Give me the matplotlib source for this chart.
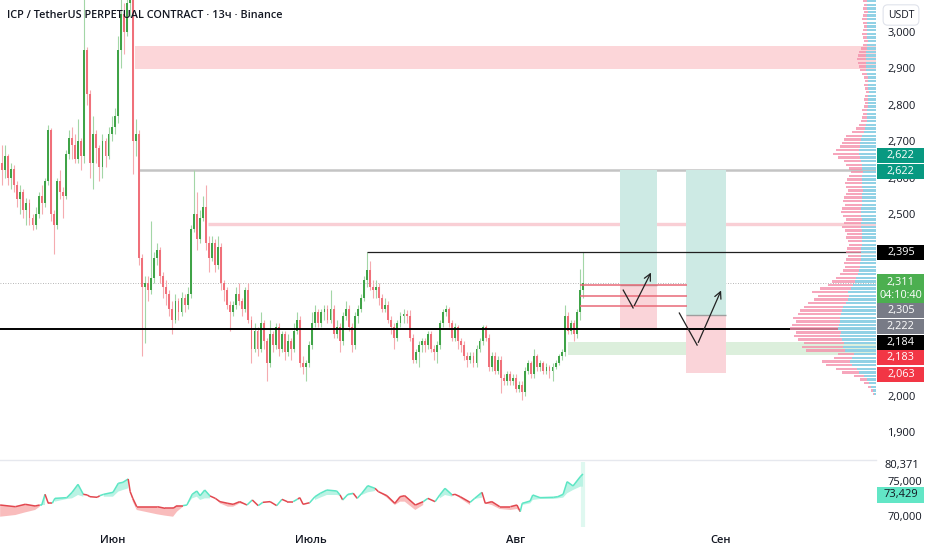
import matplotlib
matplotlib.use("Agg")
import matplotlib.pyplot as plt
from matplotlib.collections import LineCollection
from matplotlib.patches import Rectangle
from matplotlib.lines import Line2D
import numpy as np

plt.rcParams['font.family'] = ['Open Sans', 'DejaVu Sans']

# ---- candles (13h); open = previous close ----
first_open = 2640
closes = [2620, 2660, 2600, 2625, 2580, 2540, 2560, 2510, 2530, 2490,
          2470, 2500, 2550, 2530, 2590, 2730, 2500, 2470, 2590, 2560,
          2550, 2665, 2710, 2690, 2650, 2700, 2660, 2950, 2830, 2640,
          2720, 2680, 2630, 2700, 2660, 2720, 2740, 2770, 2950, 3050,
          3000, 3080, 3120, 2700, 2720, 2380, 2300, 2310, 2290, 2325,
          2380, 2400, 2330, 2300, 2280, 2240, 2210, 2260, 2230, 2270,
          2250, 2280, 2460, 2500, 2430, 2490, 2520, 2420, 2380, 2420,
          2360, 2410, 2310, 2290, 2250, 2230, 2250, 2280, 2260, 2240,
          2290, 2210, 2130, 2180, 2130, 2200, 2150, 2090, 2170, 2140,
          2190, 2130, 2170, 2120, 2150, 2130, 2180, 2210, 2090, 2080,
          2090, 2140, 2200, 2230, 2200, 2230, 2240, 2210, 2240, 2170,
          2190, 2150, 2220, 2240, 2190, 2140, 2220, 2240, 2270, 2320,
          2346, 2300, 2290, 2300, 2270, 2240, 2250, 2210, 2190, 2160,
          2200, 2220, 2225, 2220, 2160, 2100, 2120, 2140, 2150, 2140,
          2170, 2130, 2120, 2140, 2200, 2230, 2240, 2200, 2160, 2190,
          2150, 2140, 2110, 2100, 2110, 2090, 2130, 2150, 2190, 2160,
          2080, 2110, 2070, 2100, 2050, 2040, 2060, 2040, 2050, 2020,
          2030, 2010, 2070, 2090, 2060, 2110, 2080, 2090, 2070, 2080,
          2070, 2080, 2090, 2110, 2120, 2220, 2180, 2200, 2170, 2230,
          2290, 2311]
highs = [2690, 2690, 2665, 2640, 2635, 2590, 2580, 2570, 2545, 2540,
         2500, 2520, 2560, 2580, 2600, 2745, 2735, 2510, 2600, 2620,
         2575, 2675, 2730, 2740, 2720, 2760, 2710, 3100, 2960, 2840,
         2770, 2730, 2690, 2720, 2710, 2740, 2770, 2790, 2990, 3150,
         3080, 3130, 3200, 3150, 2760, 2730, 2390, 2330, 2330, 2480,
         2395, 2420, 2410, 2340, 2320, 2290, 2260, 2280, 2270, 2285,
         2280, 2300, 2470, 2622, 2560, 2510, 2550, 2580, 2440, 2440,
         2430, 2440, 2420, 2320, 2300, 2260, 2260, 2300, 2310, 2270,
         2300, 2310, 2220, 2200, 2190, 2230, 2210, 2160, 2210, 2180,
         2200, 2200, 2180, 2180, 2170, 2160, 2200, 2230, 2220, 2110,
         2100, 2150, 2230, 2250, 2240, 2240, 2250, 2250, 2290, 2250,
         2210, 2200, 2230, 2260, 2250, 2200, 2230, 2250, 2280, 2330,
         2395, 2370, 2320, 2320, 2310, 2280, 2270, 2260, 2220, 2200,
         2210, 2230, 2240, 2235, 2235, 2170, 2130, 2150, 2160, 2160,
         2180, 2180, 2140, 2150, 2210, 2240, 2250, 2245, 2210, 2200,
         2195, 2160, 2150, 2120, 2120, 2120, 2140, 2160, 2195, 2195,
         2170, 2120, 2120, 2110, 2110, 2060, 2070, 2070, 2060, 2060,
         2040, 2040, 2080, 2100, 2095, 2130, 2115, 2100, 2095, 2090,
         2085, 2090, 2100, 2115, 2130, 2250, 2230, 2210, 2210, 2240,
         2350, 2395]
lows = [2580, 2600, 2580, 2570, 2560, 2520, 2500, 2490, 2470, 2470,
        2456, 2460, 2490, 2500, 2520, 2580, 2480, 2390, 2460, 2540,
        2490, 2540, 2650, 2650, 2640, 2640, 2620, 2640, 2800, 2600,
        2570, 2640, 2590, 2600, 2630, 2650, 2700, 2720, 2750, 2900,
        2940, 2990, 3040, 2610, 2660, 2360, 2110, 2146, 2260, 2280,
        2310, 2360, 2310, 2270, 2250, 2220, 2170, 2200, 2210, 2220,
        2230, 2240, 2270, 2450, 2400, 2420, 2480, 2400, 2340, 2370,
        2340, 2350, 2290, 2260, 2240, 2180, 2220, 2240, 2250, 2220,
        2230, 2200, 2090, 2120, 2110, 2120, 2130, 2040, 2080, 2120,
        2130, 2110, 2120, 2100, 2110, 2100, 2120, 2170, 2080, 2060,
        2040, 2080, 2130, 2190, 2190, 2190, 2210, 2200, 2200, 2160,
        2160, 2120, 2140, 2210, 2180, 2120, 2130, 2200, 2230, 2260,
        2300, 2290, 2270, 2270, 2250, 2230, 2230, 2200, 2170, 2130,
        2150, 2190, 2200, 2200, 2150, 2090, 2090, 2080, 2120, 2120,
        2130, 2120, 2100, 2090, 2130, 2190, 2220, 2190, 2150, 2150,
        2130, 2120, 2100, 2080, 2090, 2080, 2080, 2120, 2140, 2150,
        2070, 2070, 2060, 2060, 2008, 2030, 2030, 2030, 2030, 2010,
        2010, 1990, 2000, 2060, 2050, 2050, 2070, 2070, 2060, 2060,
        2050, 2040, 2075, 2085, 2100, 2110, 2170, 2170, 2150, 2160,
        2210, 2270]

# time axis in days from 1 June
first_day, last_day = -16.8, 71.2
month_days = [0, 30, 61, 92]
month_names = ['Июн', 'Июль', 'Авг', 'Сен']

# ---- drawn levels / zones ----
supply_zone = (2898, 2962, 3.3)        # low, high, start day
gray_level = (2622, 3.8)
pink_level = (2473, 14.4)
thin_level = (2395, 38.5)
thick_level = 2184
demand_zone = (2113, 2148, 68.9)
last_price = 2311
red_lines = [2305, 2275, 2247]
red_lines_span = (70.8, 87.0)

# long positions: start, end, entry, stop, target
positions = [(76.8, 82.4, 2305, 2183, 2622),
             (86.8, 92.9, 2222, 2063, 2622)]
arrow1_days = [77.3, 78.8, 81.7]
arrow1_prices = [2291, 2242, 2346]
arrow2_days = [85.8, 88.5, 92.3]
arrow2_prices = [2228, 2140, 2297]

# price scale: visible round ticks and the coloured value labels
price_ticks = [1900, 2000, 2500, 2600, 2700, 2800, 2900, 3000]
label_texts = ['2,622', '2,622', '2,395', '2,311\n04:10:40', '2,305',
               '2,222', '2,184', '2,183', '2,063']
label_prices = [2662, 2618, 2393, 2294, 2234, 2190, 2148, 2107, 2058]
label_colors = ['#089981', '#089981', '#000000', '#4caf50', '#787b86',
                '#787b86', '#000000', '#f23645', '#f23645']

# ---- volume profile (10-point rows, 2005 .. 3085) ----
vp_prices = list(range(2005, 3090, 10))
vp_total = [3, 5, 8, 12, 16, 22, 34, 40, 50, 54,
            42, 38, 70, 74, 72, 78, 82, 80, 86, 84,
            80, 83, 78, 76, 72, 68, 62, 58, 64, 56,
            48, 44, 40, 36, 33, 31, 32, 30, 28, 30,
            29, 27, 28, 30, 29, 31, 34, 32, 30, 33,
            35, 34, 31, 33, 32, 30, 28, 30, 31, 29,
            27, 25, 27, 30, 32, 38, 43, 40, 36, 34,
            32, 30, 24, 20, 17, 15, 14, 13, 14, 12,
            11, 12, 11, 10, 11, 12, 11, 12, 14, 16,
            17, 18, 19, 18, 17, 15, 13, 12, 13, 14,
            13, 12, 13, 14, 13, 12, 13, 12, 13]
vp_buy = [2, 3, 5, 7, 9, 12, 17, 19, 24, 26,
          24, 22, 31, 33, 32, 34, 36, 35, 38, 37,
          36, 36, 35, 34, 33, 30, 28, 27, 28, 25,
          23, 21, 20, 18, 17, 16, 16, 15, 15, 15,
          15, 14, 14, 14, 14, 14, 15, 15, 14, 15,
          15, 15, 14, 14, 14, 14, 13, 14, 14, 14,
          14, 13, 14, 14, 15, 16, 17, 17, 16, 16,
          15, 14, 12, 11, 10, 9, 9, 9, 9, 8,
          8, 8, 8, 7, 8, 8, 8, 8, 9, 10,
          10, 10, 10, 10, 10, 9, 9, 8, 9, 9,
          9, 9, 9, 9, 9, 8, 9, 9, 9]

# ---- lower indicator ----
ind_days = [-17.1, -14.8, -13.3, -11.8, -11.1, -10.8, -10.3, -9.8, -9.2, -8.8,
            -7.0, -6.2, -5.3, -4.5, -3.9, -3.5, -2.4, -2.0, -1.4, 0.0,
            0.8, 1.5, 2.3, 2.6, 3.0, 3.6, 4.8, 6.7, 7.9, 9.1,
            9.7, 10.6, 11.2, 12.0, 12.7, 13.2, 13.9, 14.7, 15.5, 16.2,
            17.4, 18.2, 19.2, 20.3, 21.1, 22.0, 22.7, 23.8, 24.8, 25.6,
            26.4, 27.3, 28.0, 28.3, 28.8, 29.8, 30.6, 31.4, 32.4, 33.9,
            34.4, 34.8, 35.6, 36.4, 37.0, 37.7, 38.6, 39.7, 40.2, 41.5,
            42.7, 43.5, 44.2, 45.8, 47.0, 47.7, 48.8, 49.5, 50.3, 51.4,
            51.8, 52.6, 54.1, 54.8, 55.9, 56.4, 57.4, 58.6, 60.2, 61.2,
            61.7, 62.0, 63.2, 63.6, 64.7, 66.7, 67.4, 68.2, 68.8, 69.7,
            70.8, 71.2]
ind_line = [71570, 71330, 71670, 71430, 71570, 71570, 73100, 71810, 71810, 72520,
            72620, 73380, 74520, 73100, 73000, 72760, 72670, 72900, 73100, 73380,
            74670, 74810, 75290, 73480, 72520, 71330, 71330, 71330, 71100, 71100,
            71480, 71480, 71570, 73100, 73570, 72900, 73710, 72860, 72520, 72050,
            71810, 71670, 72050, 71570, 72290, 71480, 71950, 72050, 71480, 72380,
            72050, 72050, 72430, 72620, 71670, 71900, 72760, 73240, 73710, 73570,
            73000, 72290, 73100, 73240, 72520, 73240, 74330, 73950, 73480, 72900,
            71810, 72760, 72900, 71570, 72050, 72520, 72050, 73000, 73950, 73000,
            73100, 72760, 71950, 72520, 73380, 71810, 72050, 71330, 71330, 71570,
            70620, 71810, 72140, 73000, 72620, 72670, 72760, 73100, 74900, 74290,
            75620, 76000]
ind_band = [69900, 70140, 70520, 70860, 71330, 71570, 71570, 71900, 71810, 72050,
            72430, 72520, 73000, 72760, 73000, 72760, 72670, 72900, 72760, 72760,
            73480, 73710, 73950, 73710, 72050, 70860, 70620, 70240, 70050, 69900,
            70620, 71330, 71570, 72520, 72760, 72290, 72520, 72520, 72520, 71810,
            71330, 71330, 71810, 71570, 72290, 71480, 71950, 72050, 71480, 72380,
            72050, 72050, 72430, 72620, 71670, 71900, 72290, 72620, 73000, 73000,
            72900, 72290, 72900, 73100, 72520, 73000, 73380, 73570, 73480, 72620,
            71570, 72050, 72050, 70860, 71570, 72520, 72050, 72520, 73000, 72760,
            73100, 72520, 71570, 72430, 72620, 71810, 71570, 71000, 70860, 71000,
            70620, 71570, 71810, 72290, 72430, 72430, 72520, 72620, 73240, 73710,
            74190, 74190]
ind_up = [0, 0, 0, 0, 0, 1, 1, 0, 0, 1,
          1, 1, 1, 1, 0, 0, 0, 0, 1, 1,
          1, 1, 1, 0, 0, 0, 0, 0, 0, 0,
          0, 0, 1, 1, 1, 1, 1, 1, 0, 0,
          0, 0, 0, 0, 1, 0, 1, 0, 0, 1,
          0, 0, 1, 0, 0, 0, 1, 1, 1, 1,
          1, 0, 1, 1, 0, 1, 1, 1, 0, 0,
          0, 0, 0, 0, 0, 1, 0, 1, 1, 1,
          0, 0, 0, 1, 1, 0, 0, 0, 0, 0,
          0, 1, 1, 1, 1, 1, 1, 1, 1, 1,
          1, 1]
ind_ticks = [70000, 75000]

# ---------------------------------------------------------------
W, H = 932, 550
plot_right = 876
fig = plt.figure(figsize=(W / 100, H / 100), dpi=100)
fig.patch.set_facecolor('white')
ax = fig.add_axes([0, 93 / H, plot_right / W, 457 / H])
ax2 = fig.add_axes([0, 23 / H, plot_right / W, 65 / H])

x_left, x_right = -17.12, 115.6
ax.set_xlim(x_left, x_right)
ax.set_ylim(1832.5, 3087.9)
ax2.set_xlim(x_left, x_right)
ax2.set_ylim(68430, 77710)

for a in (ax, ax2):
    for s in a.spines.values():
        s.set_visible(False)
    a.yaxis.tick_right()
    a.tick_params(axis='y', length=0, pad=8, labelsize=8, labelcolor='#131722')

# candles
n = len(closes)
t = np.linspace(first_day, last_day, n)
step = t[1] - t[0]
opens = [first_open] + closes[:-1]
for i in range(n):
    o, c = opens[i], closes[i]
    h = max(highs[i], o, c)
    l = min(lows[i], o, c)
    up = c >= o
    body = '#3fa347' if up else '#f0707a'
    wick = '#a3d6a6' if up else '#f5abb0'
    ax.vlines(t[i], l, h, color=wick, lw=0.8, zorder=3)
    ax.bar(t[i], max(abs(c - o), 2), bottom=min(o, c), width=step * 0.62,
           color=body, lw=0, zorder=4)

# zones and levels
ax.fill_between([supply_zone[2], x_right], supply_zone[0], supply_zone[1],
                color='#fcd6d9', lw=0, zorder=2)
ax.hlines(gray_level[0], gray_level[1], x_right, color='#c4c4c4', lw=1.8, zorder=2)
ax.hlines(pink_level[0], pink_level[1], x_right, color='#f9cfd5', lw=2.4, zorder=2)
ax.hlines(thin_level[0], thin_level[1], x_right, color='#202020', lw=0.9, zorder=5)
ax.axhline(thick_level, color='#000000', lw=1.4, zorder=5)
ax.fill_between([demand_zone[2], x_right], demand_zone[0], demand_zone[1],
                color='#dcefdc', lw=0, zorder=2)
ax.axhline(last_price, color='#9e9e9e', lw=0.6, ls=(0, (1, 2)), zorder=2)
for p in red_lines:
    ax.hlines(p, red_lines_span[0], red_lines_span[1], color='#e86a78', lw=1.1, zorder=5)

for (s, e, entry, stop, target) in positions:
    ax.add_patch(Rectangle((s, entry), e - s, target - entry, color='#cdeae4', lw=0, zorder=2))
    ax.add_patch(Rectangle((s, stop), e - s, entry - stop, color='#fad4d9', lw=0, zorder=2))
    ax.hlines(entry, s, e, color='#9e9e9e', lw=1, zorder=3)

for days, prices in ((arrow1_days, arrow1_prices), (arrow2_days, arrow2_prices)):
    ax.plot(days[:2], prices[:2], color='#222222', lw=0.9, zorder=6)
    ax.annotate('', xy=(days[2], prices[2]), xytext=(days[1], prices[1]),
                arrowprops=dict(arrowstyle='->', color='#222222', lw=0.9,
                                mutation_scale=12), zorder=6)

# price axis
ax.set_yticks(price_ticks)
ax.set_yticklabels([f'{v:,}' for v in price_ticks])
ax.set_xticks([])

box_w = 47 / plot_right
ytr = ax.get_yaxis_transform()
for txt, p, col in zip(label_texts, label_prices, label_colors):
    hh = 30 if '\n' in txt else 15
    dh = hh * 2.747
    ax.add_patch(Rectangle((1.0015, p - dh / 2), box_w, dh, transform=ytr,
                           color=col, lw=0, clip_on=False, zorder=7))
    ax.text(1.0015 + box_w / 2, p, txt, transform=ytr, ha='center', va='center',
            color='white', fontsize=7.8, linespacing=1.2, clip_on=False, zorder=8)

fig.text(901 / W, 1 - 15 / H, 'USDT', ha='center', va='center', fontsize=7.5,
         color='#131722',
         bbox=dict(boxstyle='round,pad=0.45', fc='white', ec='#e0e3eb', lw=0.8))
fig.text(7 / W, 1 - 15 / H, 'ICP / TetherUS PERPETUAL CONTRACT · 13ч · Binance',
         ha='left', va='center', fontsize=7.8, color='#131722', weight='semibold')

# volume profile
vp = ax.inset_axes([1 - 86 / plot_right, 0, 86 / plot_right, 1], sharey=ax)
vp.set_xlim(86, 0)
vp.axis('off')
vp.patch.set_alpha(0)
vp.barh(vp_prices, vp_total, height=6.5, color='#f490ab', alpha=0.8, lw=0)
vp.barh(vp_prices, vp_buy, height=6.5, color='#86d6ea', alpha=0.9, lw=0)

# separator between panes
fig.add_artist(Line2D([0, plot_right / W], [1 - 460 / H] * 2, color='#e6e8ee', lw=1))

# indicator
ind_days_a = np.array(ind_days)
ind_line_a = np.array(ind_line)
ind_band_a = np.array(ind_band)
up_a = np.array(ind_up, dtype=bool)
ax2.fill_between(ind_days_a, ind_line_a, ind_band_a, where=up_a,
                 color='#b9f3e4', lw=0, interpolate=False)
ax2.fill_between(ind_days_a, ind_line_a, ind_band_a, where=~up_a,
                 color='#f9bcbc', lw=0, interpolate=False)
segs = [[(ind_days[i], ind_line[i]), (ind_days[i + 1], ind_line[i + 1])]
        for i in range(len(ind_days) - 1)]
seg_cols = ['#5de6c4' if ind_up[i + 1] else '#e2474f' for i in range(len(ind_days) - 1)]
ax2.add_collection(LineCollection(segs, colors=seg_cols, linewidths=1.1))
ax2.axvline(last_day, color='#dff8f0', lw=3, zorder=0)

ax2.set_yticks(ind_ticks)
ax2.set_yticklabels([f'{v:,}' for v in ind_ticks])
ytr2 = ax2.get_yaxis_transform()
ax2.text(1 + 9 / plot_right, 77140, '80,371', transform=ytr2, ha='left',
         va='center', fontsize=8, color='#131722', clip_on=False)
ax2.add_patch(Rectangle((1.0015, 71860), box_w, 2280, transform=ytr2,
                        color='#62e6c6', lw=0, clip_on=False, zorder=7))
ax2.text(1.0015 + box_w / 2, 73000, '73,429', transform=ytr2, ha='center',
         va='center', fontsize=8, color='#131722', clip_on=False, zorder=8)

ax2.set_xticks(month_days)
ax2.set_xticklabels(month_names)
ax2.tick_params(axis='x', length=0, pad=6, labelsize=8, labelcolor='#131722')
for lbl in ax2.get_xticklabels():
    lbl.set_fontweight('semibold')

fig.savefig('out.png', dpi=100, facecolor='white')
